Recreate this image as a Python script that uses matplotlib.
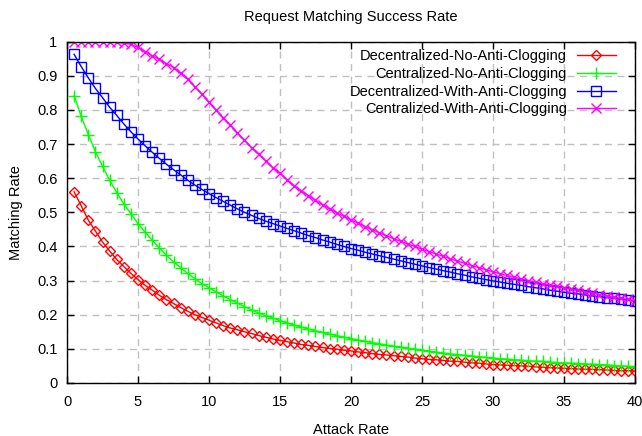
"""Request matching success rate vs attack rate, gnuplot-like styling."""

import matplotlib
matplotlib.use("Agg")
import matplotlib.pyplot as plt
import numpy as np

plt.rcParams["font.family"] = ["Liberation Sans", "DejaVu Sans"]

# attack rate sampled every 0.5 from 0.5 to 40
attack_rate = np.arange(0.5, 40.01, 0.5)

decentralized_no_ac = [
  0.560, 0.519, 0.477, 0.445, 0.413, 0.387, 0.362, 0.341, 0.321, 0.303,
  0.286, 0.272, 0.257, 0.244, 0.233, 0.221, 0.210, 0.200, 0.192, 0.184,
  0.176, 0.168, 0.161, 0.156, 0.150, 0.145, 0.139, 0.134, 0.129, 0.125,
  0.121, 0.117, 0.113, 0.110, 0.107, 0.104, 0.101, 0.099, 0.096, 0.094,
  0.091, 0.089, 0.086, 0.084, 0.082, 0.080, 0.078, 0.076, 0.073, 0.071,
  0.069, 0.068, 0.066, 0.064, 0.063, 0.061, 0.059, 0.058, 0.056, 0.054,
  0.053, 0.052, 0.051, 0.050, 0.049, 0.047, 0.046, 0.045, 0.044, 0.043,
  0.042, 0.041, 0.040, 0.040, 0.039, 0.038, 0.037, 0.036, 0.036, 0.035,
]
centralized_no_ac = [
  0.842, 0.781, 0.728, 0.677, 0.635, 0.594, 0.558, 0.524, 0.496, 0.467,
  0.442, 0.418, 0.396, 0.374, 0.355, 0.338, 0.321, 0.306, 0.291, 0.279,
  0.267, 0.255, 0.244, 0.234, 0.224, 0.214, 0.205, 0.197, 0.190, 0.183,
  0.176, 0.170, 0.164, 0.158, 0.153, 0.148, 0.143, 0.139, 0.134, 0.130,
  0.126, 0.122, 0.118, 0.115, 0.111, 0.108, 0.105, 0.102, 0.099, 0.096,
  0.093, 0.090, 0.088, 0.085, 0.083, 0.081, 0.079, 0.077, 0.075, 0.073,
  0.071, 0.070, 0.068, 0.067, 0.065, 0.064, 0.063, 0.061, 0.060, 0.059,
  0.058, 0.057, 0.056, 0.055, 0.054, 0.053, 0.051, 0.050, 0.049, 0.048,
]
decentralized_with_ac = [
  0.963, 0.927, 0.894, 0.863, 0.836, 0.808, 0.784, 0.759, 0.736, 0.715,
  0.695, 0.676, 0.658, 0.641, 0.625, 0.610, 0.594, 0.580, 0.567, 0.555,
  0.543, 0.532, 0.521, 0.510, 0.500, 0.491, 0.482, 0.474, 0.467, 0.460,
  0.453, 0.446, 0.439, 0.432, 0.426, 0.419, 0.413, 0.406, 0.400, 0.394,
  0.389, 0.383, 0.378, 0.373, 0.368, 0.363, 0.358, 0.353, 0.348, 0.343,
  0.338, 0.334, 0.329, 0.325, 0.320, 0.316, 0.311, 0.307, 0.303, 0.299,
  0.296, 0.292, 0.289, 0.286, 0.282, 0.279, 0.276, 0.272, 0.269, 0.266,
  0.263, 0.261, 0.258, 0.255, 0.253, 0.250, 0.248, 0.245, 0.243, 0.240,
]
centralized_with_ac = [
  1.000, 1.000, 1.000, 1.000, 0.999, 0.999, 0.998, 0.996, 0.992, 0.983,
  0.971, 0.959, 0.948, 0.936, 0.924, 0.907, 0.890, 0.868, 0.846, 0.822,
  0.800, 0.777, 0.756, 0.733, 0.712, 0.689, 0.670, 0.650, 0.631, 0.614,
  0.596, 0.578, 0.563, 0.549, 0.535, 0.522, 0.510, 0.499, 0.488, 0.478,
  0.468, 0.458, 0.449, 0.440, 0.431, 0.423, 0.415, 0.407, 0.400, 0.392,
  0.385, 0.378, 0.371, 0.364, 0.357, 0.351, 0.344, 0.338, 0.332, 0.326,
  0.320, 0.315, 0.310, 0.305, 0.300, 0.296, 0.291, 0.287, 0.283, 0.279,
  0.275, 0.271, 0.267, 0.263, 0.259, 0.255, 0.252, 0.248, 0.245, 0.241,
]

series = [
  ("Decentralized-No-Anti-Clogging", decentralized_no_ac, "#ff0000", "D", 5.5),
  ("Centralized-No-Anti-Clogging", centralized_no_ac, "#00ff00", "+", 8),
  ("Decentralized-With-Anti-Clogging", decentralized_with_ac, "#0000ff", "s", 7.5),
  ("Centralized-With-Anti-Clogging", centralized_with_ac, "#ff00ff", "x", 7),
]

fig = plt.figure(figsize=(6.42, 4.36), dpi=100)
ax = fig.add_axes([0.1044, 0.1216, 0.8846, 0.7828])

for label, vals, color, marker, ms in series:
  ax.plot(attack_rate, vals, color=color, lw=1, marker=marker, ms=ms,
          mfc="none", mec=color, mew=1, label=label)

ax.set_xlim(0, 40)
ax.set_ylim(0, 1)
ax.set_xticks(np.arange(0, 41, 5))
ax.set_yticks(np.arange(0, 1.01, 0.1))
ax.set_yticklabels(["0", "0.1", "0.2", "0.3", "0.4", "0.5", "0.6", "0.7",
                    "0.8", "0.9", "1"])
ax.tick_params(direction="in", length=5, width=1, top=True, right=True,
               labelsize=10.5, colors="black")
ax.tick_params(axis="x", pad=9)
ax.tick_params(axis="y", pad=7)
ax.grid(True, color="#c0c0c0", lw=1, ls=(0, (5, 4)))
ax.set_axisbelow(True)
for sp in ax.spines.values():
  sp.set_linewidth(1)

ax.set_title("Request Matching Success Rate", fontsize=10.5, pad=15)
ax.set_xlabel("Attack Rate", fontsize=10.5, labelpad=10)
ax.set_ylabel("Matching Rate", fontsize=10.5, labelpad=10)

ax.legend(loc="upper right", frameon=False, markerfirst=False, fontsize=10.5,
          handlelength=2.7, handletextpad=0.65, labelspacing=0.26,
          borderaxespad=0.2, bbox_to_anchor=(0.982, 1.004))

fig.savefig("out.png", dpi=100)
